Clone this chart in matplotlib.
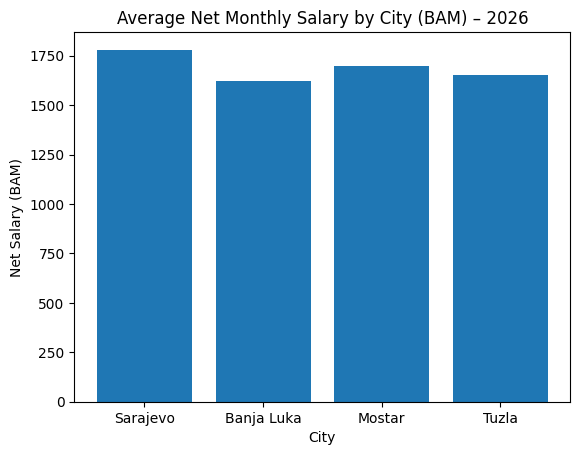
import matplotlib
matplotlib.use("Agg")
import matplotlib.pyplot as plt

cities = ["Sarajevo", "Banja Luka", "Mostar", "Tuzla"]
salaries = [1780, 1620, 1700, 1650]

plt.figure(figsize=(6.4, 4.8))
plt.bar(cities, salaries)
plt.title("Average Net Monthly Salary by City (BAM) \u2013 2026")
plt.xlabel("City")
plt.ylabel("Net Salary (BAM)")
plt.savefig("out.png", dpi=100, bbox_inches="tight")
plt.close()
